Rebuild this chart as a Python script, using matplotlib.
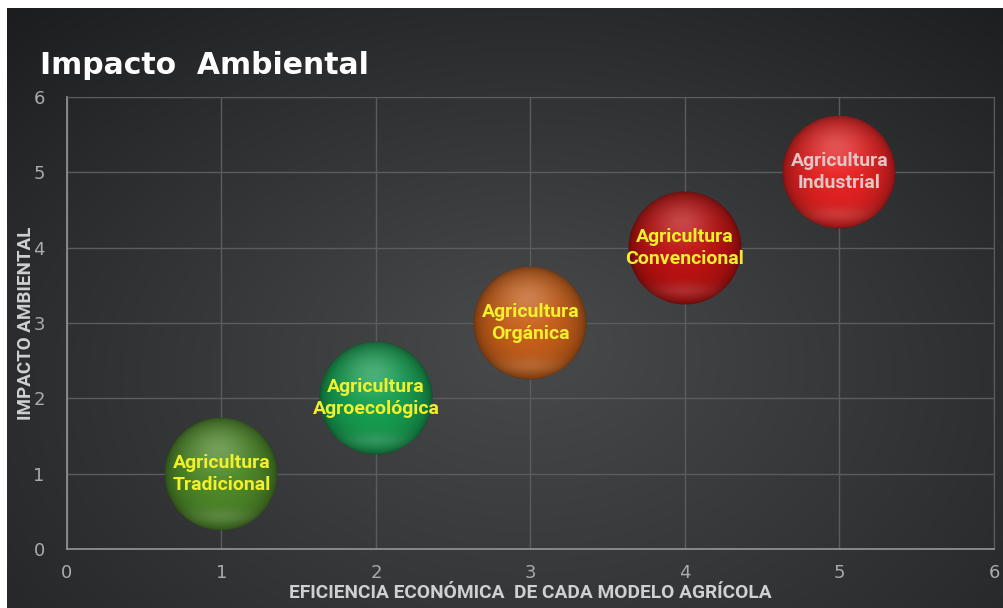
import numpy as np
import matplotlib.pyplot as plt
from matplotlib.offsetbox import OffsetImage, AnnotationBbox
from matplotlib.colors import to_rgb

# eficiencia económica vs impacto ambiental por modelo agrícola
modelos = ["Agricultura\nTradicional", "Agricultura\nAgroecológica", "Agricultura\nOrgánica",
           "Agricultura\nConvencional", "Agricultura\nIndustrial"]
eficiencia = [1, 2, 3, 4, 5]
impacto = [1, 2, 3, 4, 5]
colores = ["#4f8a2a", "#17a052", "#c9601a", "#c01212", "#e82222"]
colores_texto = ["#f2f02a", "#f2f02a", "#f2f02a", "#f2f02a", "#e2c6c6"]

ticks = [0, 1, 2, 3, 4, 5, 6]

FONT = ["Roboto", "DejaVu Sans"]


def esfera(color, n=240):
    # bola con brillo arriba, borde oscuro y reflejo abajo
    c = np.array(to_rgb(color))
    y, x = np.mgrid[1:-1:n * 1j, -1:1:n * 1j]
    r = np.sqrt(x ** 2 + y ** 2)
    z = np.sqrt(np.clip(1 - r ** 2, 0, 1))
    shade = 0.38 + 0.62 * z ** 0.7
    rgb = c[None, None, :] * shade[..., None]
    hl = np.exp(-((x + 0.05) ** 2 / 0.25 + (y - 0.45) ** 2 / 0.15)) * 0.22
    rgb = rgb + (1 - rgb) * hl[..., None]
    low = np.exp(-(x ** 2 / 0.3 + (y + 0.75) ** 2 / 0.02)) * 0.12
    rgb = rgb + (1 - rgb) * low[..., None]
    alpha = np.clip((1 - r) * n / 3, 0, 1)
    return np.dstack([np.clip(rgb, 0, 1), alpha])


fig = plt.figure(figsize=(10.04, 6.08), dpi=100, facecolor="white")

# fondo gris oscuro con degradado
bg = fig.add_axes([7 / 1004, 0, 997 / 1004, 600 / 608])
gy, gx = np.mgrid[0:1:300j, 0:1:500j]
d = np.sqrt(((gx - 0.52) / 0.75) ** 2 + ((gy - 0.55) / 0.85) ** 2)
lum = 0.30 - 0.17 * np.clip(d, 0, 1)
lum = lum - 0.03 * (1 - gy)
grad = np.dstack([lum, lum + 0.004, lum + 0.012])
bg.imshow(np.clip(grad, 0, 1), aspect="auto", extent=[0, 1, 0, 1], origin="upper")
bg.axis("off")

ax = fig.add_axes([67 / 1004, 59 / 608, 927 / 1004, 452 / 608])
ax.set_facecolor("none")
ax.set_xlim(0, 6)
ax.set_ylim(0, 6)
ax.set_xticks(ticks)
ax.set_yticks(ticks)
ax.grid(True, color="#5a5c5f", linewidth=1)
ax.set_axisbelow(True)
for side in ["top", "right"]:
    ax.spines[side].set_color("#5a5c5f")
for side in ["left", "bottom"]:
    ax.spines[side].set_color("#8c8e90")
    ax.spines[side].set_linewidth(1.3)
ax.tick_params(length=0, labelcolor="#a9abad", labelsize=13)
ax.tick_params(axis="x", pad=11)
ax.tick_params(axis="y", pad=16)

ax.set_xlabel("EFICIENCIA ECONÓMICA  DE CADA MODELO AGRÍCOLA", color="#cfd0d2",
              fontsize=13.8, fontweight="bold", family=FONT, labelpad=1)
ax.set_ylabel("IMPACTO AMBIENTAL", color="#cfd0d2", fontsize=13.5,
              fontweight="bold", family=FONT, labelpad=-1)

for xi, yi, nombre, col, tcol in zip(eficiencia, impacto, modelos, colores, colores_texto):
    img = OffsetImage(esfera(col), zoom=114 / 240, dpi_cor=False)
    ab = AnnotationBbox(img, (xi, yi), frameon=False, zorder=3)
    ax.add_artist(ab)
    ax.text(xi, yi, nombre, ha="center", va="center", color=tcol, fontsize=14,
            fontweight="bold", family=FONT, linespacing=1.3, zorder=4)

fig.text(40 / 1004, 1 - 74 / 608, "Impacto  Ambiental", color="white", fontsize=21.5,
         fontweight="bold", ha="left", va="baseline")

fig.savefig("out.png", dpi=100, facecolor=fig.get_facecolor())
